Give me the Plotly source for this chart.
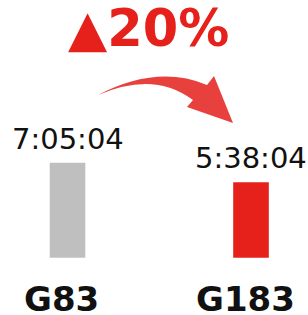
import plotly.graph_objects as go

categories = ["G83", "G183"]
values_sec = [25504, 20284]          # 7:05:04 and 5:38:04 in seconds
value_labels = ["7:05:04", "5:38:04"]
bar_colors = ["#BFBFBF", "#E6201A"]
change_label = "▲20%"

W, H = 308, 315

def px(x, y):
    return x / W, 1 - y / H

fig = go.Figure()
fig.add_trace(go.Bar(
    x=[0, 1], y=values_sec, width=0.194,
    marker=dict(color=bar_colors, line=dict(width=0)),
    hoverinfo="skip",
))

annotations = []
for i, (v, lab) in enumerate(zip(values_sec, value_labels)):
    annotations.append(dict(
        x=i, y=v, xref="x", yref="y", text=lab, showarrow=False,
        yanchor="bottom", yshift=5,
        font=dict(family="DejaVu Sans", size=29, color="#111111"),
    ))
    annotations.append(dict(
        x=i, y=0, xref="x", yref="y", text="<b>%s</b>" % categories[i], showarrow=False,
        yanchor="top", yshift=-19, xshift=-6,
        font=dict(family="DejaVu Sans", size=34, color="#111111"),
    ))

tx, ty = px(148.5, 0)
annotations.append(dict(
    x=tx, y=1, xref="paper", yref="paper", text="<b>%s</b>" % change_label,
    showarrow=False, yanchor="top", yshift=3,
    font=dict(family="DejaVu Sans", size=51, color="#E6201A"),
))

def P(x, y):
    a, b = px(x, y)
    return "%.5f,%.5f" % (a, b)

path = ("M " + P(98, 95) +
        " Q " + P(157.5, 64) + " " + P(207, 85) +
        " L " + P(214, 76) +
        " L " + P(233, 123) +
        " L " + P(187, 107) +
        " L " + P(193, 100) +
        " Q " + P(154, 70.5) + " " + P(98, 95) + " Z")

fig.update_layout(
    width=W, height=H,
    margin=dict(l=0, r=0, t=0, b=0),
    paper_bgcolor="white", plot_bgcolor="white",
    showlegend=False,
    xaxis=dict(range=[-0.368, 1.3106], visible=False, fixedrange=True),
    yaxis=dict(range=[-15403, 69274], visible=False, fixedrange=True),
    annotations=annotations,
    shapes=[dict(type="path", path=path, xref="paper", yref="paper",
                 fillcolor="#E8403D", line=dict(width=0))],
)

fig.write_html("out.html", config={"displayModeBar": False},
               post_script="document.body.style.margin='0px';document.body.style.overflow='hidden';")
